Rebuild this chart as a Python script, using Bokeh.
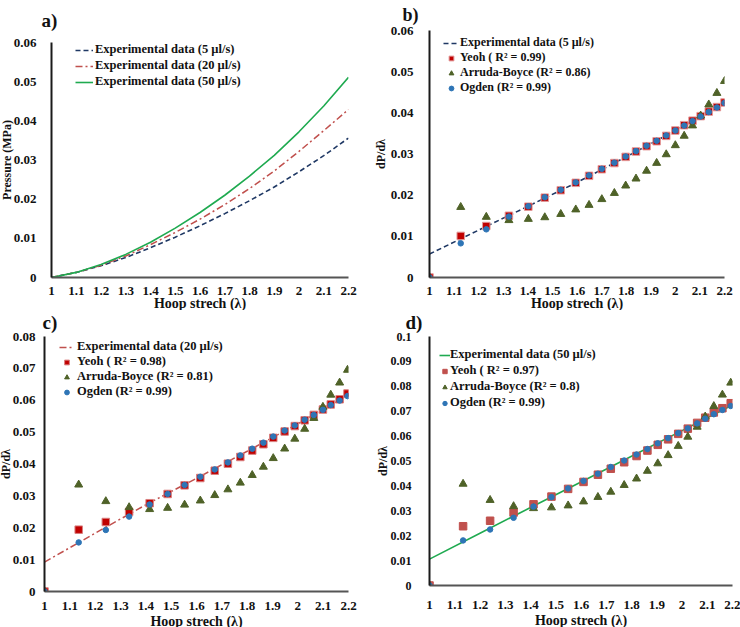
from bokeh.plotting import figure
from bokeh.models import Legend, LegendItem, Title, FixedTicker, Range1d
from bokeh.layouts import column, row
from bokeh.embed import file_html
from bokeh.resources import INLINE

FONT = "Liberation Serif"

# ---------------- data ----------------
x_ticks = [1.0, 1.1, 1.2, 1.3, 1.4, 1.5, 1.6, 1.7, 1.8, 1.9, 2.0, 2.1, 2.2]
x_tick_labels = ["1", "1.1", "1.2", "1.3", "1.4", "1.5", "1.6", "1.7", "1.8", "1.9", "2", "2.1", "2.2"]

y_ticks_006 = [0.0, 0.01, 0.02, 0.03, 0.04, 0.05, 0.06]
y_labels_006 = ["0", "0.01", "0.02", "0.03", "0.04", "0.05", "0.06"]
y_ticks_008 = [0.0, 0.01, 0.02, 0.03, 0.04, 0.05, 0.06, 0.07, 0.08]
y_labels_008 = ["0", "0.01", "0.02", "0.03", "0.04", "0.05", "0.06", "0.07", "0.08"]
y_ticks_010 = [0.0, 0.01, 0.02, 0.03, 0.04, 0.05, 0.06, 0.07, 0.08, 0.09, 0.1]
y_labels_010 = ["0", "0.01", "0.02", "0.03", "0.04", "0.05", "0.06", "0.07", "0.08", "0.09", "0.1"]

# panel a: pressure curves
a_stretch = [1.0, 1.1, 1.2, 1.3, 1.4, 1.5, 1.6, 1.7, 1.8, 1.9, 2.0, 2.1, 2.2]
a_p5 = [0.0, 0.0013, 0.0030, 0.0051, 0.0076, 0.0103, 0.0132, 0.0163, 0.0196, 0.0231, 0.0270, 0.0311, 0.0356]
a_p20 = [0.0, 0.0013, 0.0031, 0.0055, 0.0084, 0.0115, 0.0149, 0.0186, 0.0227, 0.0272, 0.0322, 0.0375, 0.0429]
a_p50 = [0.0, 0.0013, 0.0033, 0.0059, 0.0090, 0.0126, 0.0166, 0.0210, 0.0259, 0.0312, 0.0372, 0.0438, 0.0511]

# panel b: 5 ul/s
b_line_x = [1.0, 1.2, 1.4, 1.6, 1.8, 2.0, 2.2]
b_line_y = [0.0057, 0.0115, 0.0173, 0.0231, 0.0293, 0.0357, 0.0425]
b_x = [1.0, 1.127, 1.231, 1.323, 1.402, 1.469, 1.534, 1.595, 1.649, 1.701, 1.752, 1.798,
       1.840, 1.883, 1.924, 1.963, 2.000, 2.036, 2.070, 2.103, 2.136, 2.169, 2.200]
b_yeoh = [0.0, 0.0101, 0.0125, 0.0150, 0.0172, 0.0194, 0.0212, 0.0230, 0.0247, 0.0263, 0.0278, 0.0293,
          0.0306, 0.0319, 0.0331, 0.0344, 0.0357, 0.0370, 0.0381, 0.0392, 0.0403, 0.0414, 0.0425]
b_arruda = [0.0, 0.0171, 0.0147, 0.0139, 0.0142, 0.0146, 0.0154, 0.0165, 0.0176, 0.0190, 0.0205, 0.0223,
            0.0240, 0.0259, 0.0278, 0.0299, 0.0321, 0.0344, 0.0369, 0.0393, 0.0420, 0.0448, 0.0477]
b_ogden = [0.0, 0.0083, 0.0117, 0.0148, 0.0173, 0.0195, 0.0213, 0.0231, 0.0248, 0.0264, 0.0279, 0.0294,
           0.0307, 0.0320, 0.0332, 0.0345, 0.0357, 0.0369, 0.0380, 0.0391, 0.0402, 0.0413, 0.0424]

# panel c: 20 ul/s
c_line_x = [1.0, 1.2, 1.4, 1.6, 1.8, 2.0, 2.2]
c_line_y = [0.0092, 0.0183, 0.0272, 0.0355, 0.0440, 0.0526, 0.0617]
c_x = [1.0, 1.135, 1.242, 1.334, 1.415, 1.486, 1.553, 1.615, 1.672, 1.724, 1.773,
       1.820, 1.864, 1.903, 1.948, 1.988, 2.027, 2.063, 2.099, 2.130, 2.165, 2.196]
c_yeoh = [0.0, 0.0194, 0.0218, 0.0250, 0.0277, 0.0306, 0.0333, 0.0356, 0.0379, 0.0401, 0.0422,
          0.0442, 0.0462, 0.0482, 0.0502, 0.0519, 0.0537, 0.0554, 0.0571, 0.0587, 0.0603, 0.0621]
c_arruda = [0.0, 0.0335, 0.0283, 0.0264, 0.0258, 0.0262, 0.0272, 0.0285, 0.0302, 0.0320, 0.0341,
            0.0365, 0.0391, 0.0418, 0.0448, 0.0479, 0.0510, 0.0544, 0.0579, 0.0617, 0.0655, 0.0695]
c_ogden = [0.0, 0.0154, 0.0193, 0.0235, 0.0273, 0.0306, 0.0334, 0.0360, 0.0383, 0.0405, 0.0427,
           0.0448, 0.0467, 0.0486, 0.0505, 0.0521, 0.0539, 0.0554, 0.0570, 0.0585, 0.0599, 0.0613]

# panel d: 50 ul/s
d_line_x = [1.0, 1.2, 1.4, 1.6, 1.8, 2.0, 2.2]
d_line_y = [0.0106, 0.0210, 0.0313, 0.0416, 0.0519, 0.0622, 0.0725]
d_x = [1.0, 1.133, 1.240, 1.333, 1.412, 1.483, 1.549, 1.610, 1.667, 1.718, 1.771,
       1.820, 1.863, 1.904, 1.945, 1.985, 2.023, 2.060, 2.092, 2.126, 2.160, 2.193]
d_yeoh = [0.0, 0.0238, 0.0260, 0.0293, 0.0326, 0.0357, 0.0388, 0.0416, 0.0445, 0.0469, 0.0495,
          0.0520, 0.0542, 0.0565, 0.0587, 0.0609, 0.0630, 0.0653, 0.0674, 0.0695, 0.0712, 0.0732]
d_arruda = [0.0, 0.0408, 0.0343, 0.0318, 0.0310, 0.0313, 0.0321, 0.0337, 0.0355, 0.0376, 0.0403,
            0.0429, 0.0460, 0.0490, 0.0523, 0.0560, 0.0597, 0.0637, 0.0678, 0.0720, 0.0766, 0.0814]
d_ogden = [0.0, 0.0181, 0.0225, 0.0272, 0.0317, 0.0355, 0.0390, 0.0420, 0.0449, 0.0476, 0.0502,
           0.0526, 0.0548, 0.0571, 0.0592, 0.0612, 0.0631, 0.0651, 0.0670, 0.0688, 0.0705, 0.0721]

# ---------------- styles ----------------
NAVY = "#1F3864"
RED_LINE = "#C0504D"
GREEN = "#1FAA50"
YEOH_DARK = "#C00000"
YEOH_LIGHT = "#C0504D"
OLIVE = "#4F6228"
BLUE = "#2E75B6"
TXT = "#111111"


def make_fig(width, height, left, right, top, bottom, ymax, yticks, ylabels, xs, ys, ysize="13px"):
    p = figure(width=width, height=height, x_range=Range1d(1.0, 2.2), y_range=Range1d(0, ymax),
               output_backend="svg", toolbar_location=None, frame_align=False,
               min_border_left=left, min_border_right=right,
               min_border_top=top, min_border_bottom=bottom)
    p.outline_line_color = None
    p.grid.visible = False
    p.xaxis.ticker = FixedTicker(ticks=x_ticks)
    p.xaxis.major_label_overrides = dict(zip(x_ticks, x_tick_labels))
    p.yaxis.ticker = FixedTicker(ticks=yticks)
    p.yaxis.major_label_overrides = dict(zip(yticks, ylabels))
    for ax in (p.xaxis[0], p.yaxis[0]):
        ax.major_tick_line_color = None
        ax.minor_tick_line_color = None
        ax.major_label_text_font = FONT
        ax.major_label_text_font_style = "bold"
        ax.major_label_text_font_size = "13px"
        ax.major_label_text_color = TXT
        ax.axis_line_width = 2
    p.yaxis.major_label_text_font_size = ysize
    p.xaxis.axis_line_color = "#555555"
    p.yaxis.axis_line_color = "#1a1a1a"
    p.xaxis.major_label_standoff = xs
    p.yaxis.major_label_standoff = ys
    return p


def set_titles(p, tag, tag_offset, tag_standoff, tag_size, ytitle, y_offset, y_standoff,
               xtitle, x_offset, x_standoff):
    p.title.text = tag
    p.title.align = "left"
    p.title.vertical_align = "top"
    p.title.offset = tag_offset
    p.title.standoff = tag_standoff
    p.title.text_font = FONT
    p.title.text_font_style = "bold"
    p.title.text_font_size = tag_size
    p.title.text_color = TXT
    p.add_layout(Title(text=ytitle, align="center", offset=y_offset, standoff=y_standoff,
                       text_font=FONT, text_font_style="bold", text_font_size="12px",
                       text_color=TXT), "left")
    p.add_layout(Title(text=xtitle, align="center", offset=x_offset, standoff=x_standoff,
                       text_font=FONT, text_font_style="bold", text_font_size="14px",
                       text_color=TXT), "below")


def add_legend(p, items, vx, vy, gw, standoff, spacing, size):
    lg = Legend(items=items, location=(vx, vy), orientation="vertical",
                label_text_font=FONT, label_text_font_style="bold",
                label_text_font_size=size, label_text_color=TXT,
                glyph_width=gw, glyph_height=12, label_height=12,
                label_standoff=standoff, spacing=spacing, padding=0, margin=0,
                border_line_color=None, background_fill_alpha=0)
    p.add_layout(lg)


# ---------------- panel a ----------------
pa = make_fig(370, 310, 51, 22, 41, 33, 0.06, y_ticks_006, y_labels_006, 3, 9)
ra1 = pa.line(a_stretch, a_p5, line_color=NAVY, line_width=1.6, line_dash="5 3")
ra2 = pa.line(a_stretch, a_p20, line_color=RED_LINE, line_width=1.5, line_dash="7 3 2 3")
ra3 = pa.line(a_stretch, a_p50, line_color=GREEN, line_width=1.6)
add_legend(pa, [LegendItem(label="Experimental data (5 µl/s)", renderers=[ra1]),
                LegendItem(label="Experimental data (20 µl/s)", renderers=[ra2]),
                LegendItem(label="Experimental data (50 µl/s)", renderers=[ra3])],
           24, 188, 18, 2, 1, "12.5px")
set_titles(pa, "a)", -10, 19, "19px", "Pressure (MPa)", 2, -7, "Hoop strech (λ)", 15, -8)


# ---------------- derivative panels ----------------
def deriv_panel(p, lx, ly, lcolor, ldash, lwidth, x, yeoh, arruda, ogden, ycol, yline,
                labels, leg):
    if ldash is None:
        rl = p.line(lx, ly, line_color=lcolor, line_width=lwidth)
    else:
        rl = p.line(lx, ly, line_color=lcolor, line_width=lwidth, line_dash=ldash)
    ry = p.scatter(x, yeoh, marker="square", size=7.5, fill_color=ycol, line_color=yline, line_width=1)
    rar = p.scatter(x, arruda, marker="triangle", size=8, fill_color=OLIVE, line_color=OLIVE)
    ro = p.scatter(x, ogden, marker="circle", size=5.5, fill_color=BLUE, line_color=BLUE)
    items = [LegendItem(label=labels[0], renderers=[rl]),
             LegendItem(label=labels[1], renderers=[ry]),
             LegendItem(label=labels[2], renderers=[rar]),
             LegendItem(label=labels[3], renderers=[ro])]
    add_legend(p, items, *leg)


pb = make_fig(370, 310, 59, 16, 30, 33, 0.06, y_ticks_006, y_labels_006, 3, 10)
deriv_panel(pb, b_line_x, b_line_y, NAVY, "5 3", 1.6, b_x, b_yeoh, b_arruda, b_ogden,
            YEOH_DARK, "#E39A9A",
            ["Experimental data (5 µl/s)", "Yeoh ( R² = 0.99)", "Arruda-Boyce (R² = 0.86)", "Ogden (R² = 0.99)"],
            (14, 182, 16, 1, 0, "12px"))
set_titles(pb, "b)", -27, 8, "18px", "dP/dλ", -3, 0, "Hoop strech (λ)", -2, -8)

pc = make_fig(370, 317, 43, 22, 25, 35, 0.08, y_ticks_008, y_labels_008, 4, 3)
deriv_panel(pc, c_line_x, c_line_y, RED_LINE, "7 3 2 3", 1.5, c_x, c_yeoh, c_arruda, c_ogden,
            YEOH_DARK, "#D98080",
            ["Experimental data (20 µl/s)", "Yeoh ( R² = 0.98)", "Arruda-Boyce (R² = 0.81)", "Ogden (R² = 0.99)"],
            (15, 192, 15, 3, 0, "12.5px"))
set_titles(pc, "c)", -2, 3, "19px", "dP/dλ", 5, -7, "Hoop strech (λ)", 0, -2)

pd_ = make_fig(370, 317, 59, 8, 25, 40, 0.1, y_ticks_010, y_labels_010, 9, 12, "12px")
deriv_panel(pd_, d_line_x, d_line_y, GREEN, None, 1.6, d_x, d_yeoh, d_arruda, d_ogden,
            YEOH_LIGHT, YEOH_LIGHT,
            ["Experimental data (50 µl/s)", "Yeoh ( R² = 0.97)", "Arruda-Boyce (R² = 0.8)", "Ogden (R² = 0.99)"],
            (10, 175, 11, 0, 1, "12.5px"))
set_titles(pd_, "d)", -24, 3, "19px", "dP/dλ", 21, -4, "Hoop strech (λ)", 2, -1)

layout = column(row(pa, pb), row(pc, pd_))
open("out.html", "w").write(file_html(layout, INLINE))
